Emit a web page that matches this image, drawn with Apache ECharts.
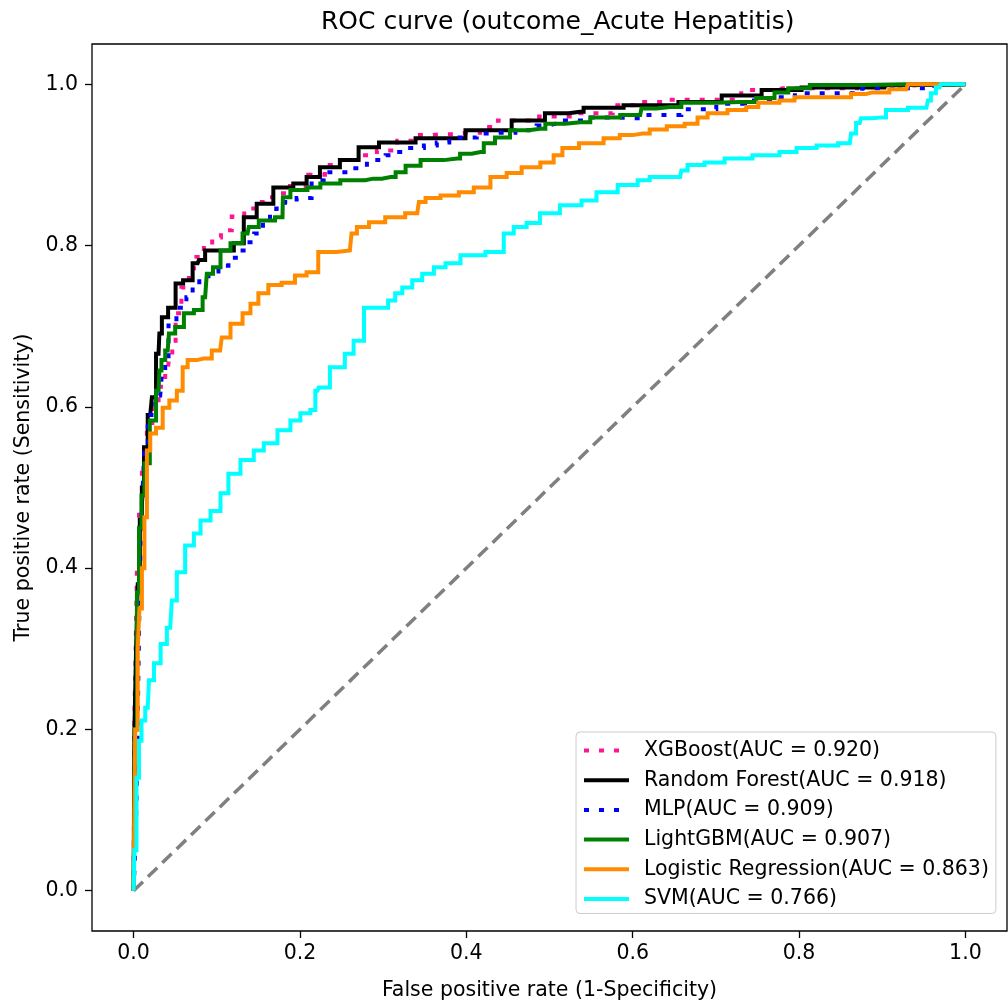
<!DOCTYPE html>
<html>
<head>
<meta charset="utf-8">
<script src="https://cdn.jsdelivr.net/npm/echarts@6/dist/echarts.min.js"></script>
<style>
html,body{margin:0;padding:0;background:#fff;}
#chart{width:1008px;height:1001px;}
</style>
</head>
<body>
<div id="chart"></div>
<script>
// ---------- data ----------
const tickValues = [0, 0.2, 0.4, 0.6, 0.8, 1.0];
const seriesNames = ['XGBoost(AUC = 0.920)', 'Random Forest(AUC = 0.918)', 'MLP(AUC = 0.909)', 'LightGBM(AUC = 0.907)', 'Logistic Regression(AUC = 0.863)', 'SVM(AUC = 0.766)'];

const xgbFpr = [0, 0.002, 0.003, 0.005, 0.008, 0.012, 0.02, 0.025, 0.035, 0.041, 0.045, 0.048, 0.053, 0.062, 0.071, 0.08, 0.089, 0.1, 0.11, 0.126, 0.14, 0.15, 0.165, 0.176, 0.2, 0.22, 0.24, 0.257, 0.28, 0.305, 0.329, 0.345, 0.37, 0.401, 0.432, 0.444, 0.465, 0.51, 0.552, 0.6, 0.621, 0.654, 0.7, 0.761, 0.78, 0.84, 0.9, 0.95, 1.0];
const xgbTpr = [0, 0.22, 0.3, 0.4, 0.47, 0.53, 0.58, 0.6, 0.625, 0.645, 0.664, 0.676, 0.716, 0.748, 0.772, 0.786, 0.8, 0.81, 0.819, 0.836, 0.846, 0.854, 0.86, 0.865, 0.874, 0.888, 0.9, 0.906, 0.912, 0.918, 0.93, 0.937, 0.938, 0.94, 0.947, 0.955, 0.955, 0.96, 0.964, 0.974, 0.978, 0.981, 0.981, 0.993, 0.995, 0.995, 0.998, 0.999, 1.0];

const rfFpr = [0, 0.002, 0.004, 0.006, 0.009, 0.011, 0.014, 0.02, 0.024, 0.03, 0.032, 0.036, 0.047, 0.054, 0.065, 0.077, 0.08, 0.092, 0.116, 0.125, 0.14, 0.156, 0.18, 0.204, 0.212, 0.236, 0.26, 0.281, 0.309, 0.369, 0.429, 0.48, 0.509, 0.537, 0.545, 0.633, 0.677, 0.737, 0.773, 0.833, 0.972, 1.0];
const rfTpr = [0, 0.2, 0.3, 0.38, 0.46, 0.5, 0.55, 0.59, 0.612, 0.666, 0.691, 0.711, 0.723, 0.753, 0.757, 0.778, 0.782, 0.794, 0.794, 0.803, 0.835, 0.852, 0.872, 0.877, 0.885, 0.897, 0.906, 0.922, 0.928, 0.933, 0.943, 0.955, 0.964, 0.966, 0.971, 0.974, 0.978, 0.986, 0.993, 0.996, 0.999, 1.0];

const mlpFpr = [0, 0.004, 0.005, 0.006, 0.008, 0.01, 0.012, 0.014, 0.02, 0.032, 0.036, 0.04, 0.044, 0.059, 0.068, 0.074, 0.084, 0.096, 0.108, 0.12, 0.131, 0.14, 0.15, 0.161, 0.167, 0.176, 0.188, 0.204, 0.224, 0.233, 0.251, 0.264, 0.297, 0.309, 0.324, 0.341, 0.357, 0.372, 0.387, 0.405, 0.42, 0.441, 0.477, 0.492, 0.507, 0.525, 0.543, 0.557, 0.6, 0.633, 0.684, 0.717, 0.753, 0.786, 0.804, 0.84, 0.912, 0.953, 0.972, 1.0];
const mlpTpr = [0, 0.05, 0.15, 0.25, 0.35, 0.45, 0.5, 0.55, 0.59, 0.614, 0.64, 0.66, 0.701, 0.723, 0.736, 0.751, 0.759, 0.768, 0.775, 0.785, 0.794, 0.804, 0.815, 0.829, 0.84, 0.846, 0.854, 0.859, 0.881, 0.891, 0.891, 0.896, 0.906, 0.912, 0.916, 0.921, 0.924, 0.928, 0.934, 0.934, 0.939, 0.94, 0.943, 0.949, 0.951, 0.955, 0.955, 0.959, 0.958, 0.962, 0.969, 0.976, 0.98, 0.984, 0.989, 0.989, 0.995, 0.995, 1.0, 1.0];

const lgbFpr = [0, 0.003, 0.005, 0.008, 0.011, 0.015, 0.024, 0.03, 0.032, 0.035, 0.041, 0.044, 0.056, 0.065, 0.08, 0.086, 0.09, 0.101, 0.108, 0.125, 0.137, 0.14, 0.161, 0.179, 0.18, 0.197, 0.221, 0.228, 0.269, 0.288, 0.309, 0.321, 0.333, 0.357, 0.389, 0.396, 0.417, 0.425, 0.444, 0.461, 0.489, 0.501, 0.537, 0.561, 0.609, 0.612, 0.645, 0.672, 0.729, 0.768, 0.773, 0.801, 0.825, 0.929, 1.0];
const lgbTpr = [0, 0.2, 0.37, 0.45, 0.49, 0.53, 0.583, 0.62, 0.645, 0.658, 0.67, 0.691, 0.699, 0.716, 0.72, 0.736, 0.765, 0.773, 0.794, 0.803, 0.815, 0.823, 0.831, 0.835, 0.86, 0.869, 0.872, 0.877, 0.881, 0.883, 0.885, 0.891, 0.899, 0.906, 0.908, 0.914, 0.916, 0.927, 0.934, 0.943, 0.945, 0.951, 0.953, 0.959, 0.962, 0.97, 0.972, 0.977, 0.978, 0.983, 0.99, 0.995, 0.999, 1.0, 1.0];

const lrFpr = [0, 0.004, 0.006, 0.008, 0.012, 0.014, 0.018, 0.022, 0.032, 0.038, 0.048, 0.056, 0.062, 0.068, 0.084, 0.104, 0.108, 0.125, 0.137, 0.144, 0.156, 0.168, 0.188, 0.2, 0.216, 0.228, 0.26, 0.264, 0.273, 0.293, 0.312, 0.341, 0.345, 0.357, 0.381, 0.401, 0.417, 0.441, 0.456, 0.477, 0.501, 0.509, 0.522, 0.549, 0.581, 0.588, 0.612, 0.629, 0.653, 0.672, 0.684, 0.696, 0.732, 0.741, 0.761, 0.792, 0.797, 0.852, 0.873, 0.888, 0.929, 0.933, 1.0];
const lrTpr = [0, 0.2, 0.3, 0.35, 0.4, 0.463, 0.546, 0.567, 0.574, 0.599, 0.608, 0.62, 0.649, 0.658, 0.66, 0.67, 0.686, 0.703, 0.716, 0.728, 0.741, 0.751, 0.754, 0.763, 0.767, 0.792, 0.794, 0.815, 0.823, 0.829, 0.835, 0.84, 0.854, 0.859, 0.862, 0.866, 0.872, 0.885, 0.89, 0.897, 0.903, 0.912, 0.921, 0.927, 0.933, 0.937, 0.939, 0.944, 0.948, 0.951, 0.959, 0.964, 0.968, 0.972, 0.977, 0.98, 0.984, 0.984, 0.988, 0.99, 0.994, 1.0, 1.0];

const svmFpr = [0, 0.002, 0.005, 0.008, 0.011, 0.017, 0.02, 0.029, 0.036, 0.044, 0.048, 0.056, 0.068, 0.077, 0.084, 0.101, 0.108, 0.12, 0.137, 0.152, 0.161, 0.185, 0.192, 0.209, 0.216, 0.221, 0.224, 0.248, 0.26, 0.269, 0.285, 0.3, 0.312, 0.317, 0.329, 0.341, 0.353, 0.369, 0.381, 0.405, 0.441, 0.449, 0.465, 0.48, 0.497, 0.528, 0.549, 0.564, 0.6, 0.612, 0.629, 0.657, 0.66, 0.672, 0.701, 0.72, 0.768, 0.785, 0.809, 0.833, 0.861, 0.864, 0.873, 0.876, 0.9, 0.909, 0.953, 0.957, 0.96, 0.969, 0.972, 1.0];
const svmTpr = [0, 0.05, 0.14, 0.186, 0.211, 0.227, 0.261, 0.282, 0.306, 0.326, 0.36, 0.395, 0.428, 0.443, 0.459, 0.471, 0.493, 0.517, 0.534, 0.546, 0.555, 0.571, 0.583, 0.592, 0.596, 0.62, 0.624, 0.649, 0.666, 0.682, 0.723, 0.723, 0.732, 0.741, 0.748, 0.757, 0.765, 0.773, 0.778, 0.788, 0.792, 0.815, 0.823, 0.828, 0.84, 0.85, 0.856, 0.866, 0.875, 0.881, 0.885, 0.885, 0.893, 0.9, 0.903, 0.908, 0.912, 0.916, 0.921, 0.924, 0.927, 0.939, 0.952, 0.958, 0.959, 0.968, 0.971, 0.98, 0.989, 0.996, 1.0, 1.0];

const diagX = [0, 1];
const diagY = [0, 1];

// ---------- chart ----------
const FONT = 'DejaVu Sans';
const zip = (a, b) => a.map((v, i) => [v, b[i]]);

function rocSeries(name, fpr, tpr, color, type) {
  return {
    name: name,
    type: 'line',
    data: zip(fpr, tpr),
    step: 'middle',
    symbol: 'none',
    showSymbol: false,
    lineStyle: { color: color, width: 4, type: type, cap: 'butt', join: 'miter' },
    itemStyle: { color: color },
    emphasis: { disabled: true },
    clip: true
  };
}

const axisCommon = {
  type: 'value',
  min: -0.05,
  max: 1.05,
  splitLine: { show: false },
  axisLine: { show: false, onZero: false },
  axisTick: {
    show: true, inside: false, length: 7,
    customValues: tickValues,
    lineStyle: { color: '#000', width: 1.3 }
  },
  axisLabel: {
    customValues: tickValues,
    formatter: v => v.toFixed(1),
    color: '#000',
    fontSize: 20.5,
    fontFamily: FONT,
    margin: 12
  },
  nameLocation: 'middle',
  nameTextStyle: { color: '#000', fontSize: 20.5, fontFamily: FONT }
};

const chart = echarts.init(document.getElementById('chart'), null, { renderer: 'canvas' });
chart.setOption({
  animation: false,
  backgroundColor: '#fff',
  title: {
    text: 'ROC curve (outcome_Acute Hepatitis)',
    left: 316,
    top: 5,
    textStyle: { color: '#000', fontSize: 25, fontWeight: 'normal', fontFamily: FONT }
  },
  grid: {
    left: 92, right: 1, top: 44, bottom: 70,
    containLabel: false,
    outerBoundsMode: 'none',
    show: true, borderColor: '#000', borderWidth: 1.3, backgroundColor: 'transparent'
  },
  xAxis: Object.assign({}, axisCommon, {
    name: 'False positive rate (1-Specificity)',
    nameGap: 49
  }),
  yAxis: Object.assign({}, axisCommon, {
    name: 'True positive rate (Sensitivity)',
    nameGap: 53,
    axisLabel: Object.assign({}, axisCommon.axisLabel, { margin: 14 })
  }),
  legend: {
    data: seriesNames,
    orient: 'vertical',
    left: 576,
    top: 732,
    padding: [8, 7, 4, 6],
    itemWidth: 45,
    itemHeight: 14,
    itemGap: 8.7,
    backgroundColor: '#fff',
    borderColor: '#cccccc',
    borderWidth: 1,
    borderRadius: 4,
    selectedMode: false,
    itemStyle: { opacity: 0 },
    lineStyle: { width: 4 },
    textStyle: { color: '#000', fontSize: 20.5, fontFamily: FONT, lineHeight: 20, padding: [0, 0, 0, 10] }
  },
  series: [
    rocSeries(seriesNames[0], xgbFpr, xgbTpr, '#ff1493', [5, 10]),
    rocSeries(seriesNames[1], rfFpr, rfTpr, '#000000', 'solid'),
    rocSeries(seriesNames[2], mlpFpr, mlpTpr, '#0000ff', [5, 10]),
    rocSeries(seriesNames[3], lgbFpr, lgbTpr, '#008000', 'solid'),
    rocSeries(seriesNames[4], lrFpr, lrTpr, '#ff8c00', 'solid'),
    rocSeries(seriesNames[5], svmFpr, svmTpr, '#00ffff', 'solid'),
    {
      name: 'diagonal',
      type: 'line',
      data: zip(diagX, diagY),
      symbol: 'none',
      lineStyle: { color: '#808080', width: 3.5, type: [13, 7], cap: 'butt' },
      emphasis: { disabled: true },
      z: 1
    }
  ]
});
</script>
</body>
</html>
